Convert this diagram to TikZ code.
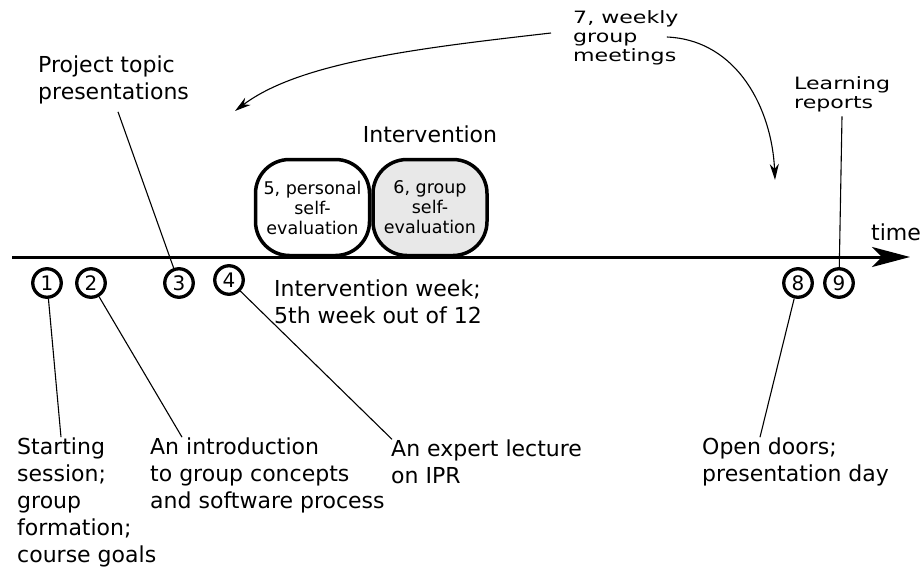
\documentclass[tikz,border=0pt]{standalone}
\usepackage{fontspec}
\setmainfont{DejaVu Sans}
\newfontfamily\widefont[FakeStretch=1.3]{DejaVu Sans}
\usetikzlibrary{arrows.meta}
\definecolor{boxgray}{RGB}{232,232,232}
\tikzset{
  big/.style={font=\fontsize{22}{27}\selectfont, align=left, inner sep=0pt},
  small/.style={font=\widefont\fontsize{17}{19}\selectfont, align=left, inner sep=0pt},
  event/.style={circle, draw, line width=3.3pt, minimum size=28.5pt, inner sep=0pt, font=\fontsize{20}{20}\selectfont},
  phase/.style={draw, line width=3.5pt, rounded corners=34pt, minimum width=114pt, minimum height=96pt, align=center, font=\fontsize{17.5}{20}\selectfont},
  pointer/.style={line width=1.1pt},
  curvearrow/.style={line width=1.1pt, -{Stealth[length=16pt,width=9pt,inset=5pt]}}
}

\begin{document}
\begin{tikzpicture}[x=1pt,y=-1pt]
  \useasboundingbox (0,0) rectangle (921,570);

  \coordinate (t0) at (12,257);
  \coordinate (t1) at (910,257);
  \draw [line width=3pt, -{Stealth[length=38pt,width=20pt,inset=10pt]}] (t0) -- (t1);
  \node [big, anchor=base west] (time) at (871,240) {time};

  \node [phase] (self) at (312.5,207.5) {5, personal\\self-\\evaluation};
  \node [phase, fill=boxgray] (group) at (430,207.5) {6, group\\self-\\evaluation};
  \node [big] (interv) at (430,134) {Intervention};
  \node [big, anchor=west] (week) at (274,302) {Intervention week;\\5th week out of 12};

  \node [event] (e1) at (47,283) {1};
  \node [event] (e2) at (91,283) {2};
  \node [event] (e3) at (179,283) {3};
  \node [event] (e4) at (229,280) {4};
  \node [event] (e8) at (798,283) {8};
  \node [event] (e9) at (839,283) {9};

  \node [big, anchor=west] (l1) at (17,502) {Starting\\session;\\group\\formation;\\course goals};
  \node [big, anchor=west] (l2) at (150,475) {An introduction\\to group concepts\\and software process};
  \node [big, anchor=west] (l4) at (391,461.5) {An expert lecture\\on IPR};
  \node [big, anchor=west] (l8) at (702,461.5) {Open doors;\\presentation day};
  \node [big, anchor=west] (l3) at (38,79.5) {Project topic\\presentations};
  \node [small, anchor=west] (l7) at (573,38) {7, weekly\\group\\meetings};
  \node [small, anchor=west] (l9) at (794,94.5) {Learning\\reports};

  \draw [pointer] (e1) -- ([xshift=44pt]l1.north west);
  \draw [pointer] (e2) -- ([xshift=32pt]l2.north west);
  \draw [pointer] (e4) -- ([xshift=1pt]l4.north west);
  \draw [pointer] (e8) -- ([xshift=58pt]l8.north west);
  \draw [pointer] ([xshift=80pt,yshift=-8pt]l3.south west) -- (e3);
  \draw [pointer] ([xshift=48pt,yshift=-4pt]l9.south west) -- (e9);

  \coordinate (m1) at (235,111);
  \coordinate (m2) at (775,180);
  \draw [curvearrow] ([xshift=-22pt,yshift=5pt]l7.west) .. controls (420,48) and (300,62) .. (m1);
  \draw [curvearrow] ([xshift=-12pt,yshift=1pt]l7.east) .. controls (738,40) and (772,110) .. (m2);
\end{tikzpicture}
\end{document}
